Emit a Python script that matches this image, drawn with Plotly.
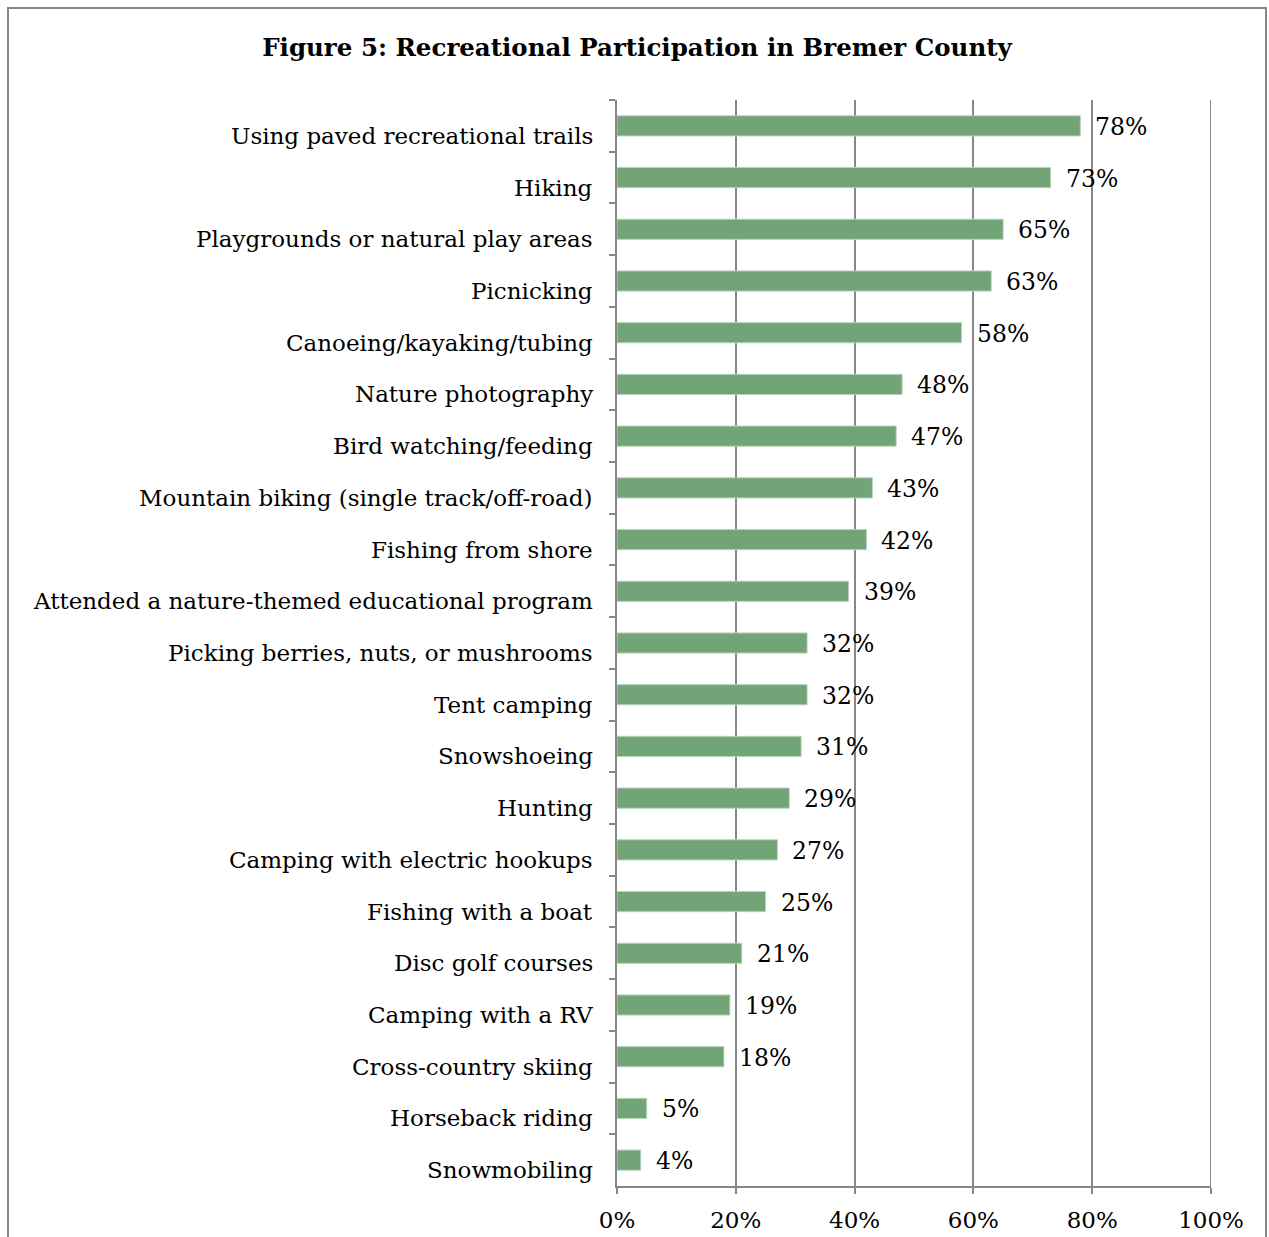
import plotly.graph_objects as go

activities = [
    "Using paved recreational trails",
    "Hiking",
    "Playgrounds or natural play areas",
    "Picnicking",
    "Canoeing/kayaking/tubing",
    "Nature photography",
    "Bird watching/feeding",
    "Mountain biking (single track/off-road)",
    "Fishing from shore",
    "Attended a nature-themed educational program",
    "Picking berries, nuts, or mushrooms",
    "Tent camping",
    "Snowshoeing",
    "Hunting",
    "Camping with electric hookups",
    "Fishing with a boat",
    "Disc golf courses",
    "Camping with a RV",
    "Cross-country skiing",
    "Horseback riding",
    "Snowmobiling",
]
participation = [0.78, 0.73, 0.65, 0.63, 0.58, 0.48, 0.47, 0.43, 0.42, 0.39,
                 0.32, 0.32, 0.31, 0.29, 0.27, 0.25, 0.21, 0.19, 0.18, 0.05, 0.04]
x_ticks = [0, 0.2, 0.4, 0.6, 0.8, 1.0]

FONT = "DejaVu Serif"
GRID = "#878787"
BAR = "#71A476"

fig = go.Figure(go.Bar(
    y=activities,
    x=participation,
    orientation="h",
    width=0.39,
    marker=dict(color=BAR, line=dict(color="#B9D3BB", width=1)),
    hoverinfo="skip",
))

# value labels to the right of each bar
annotations = []
for name, v in zip(activities, participation):
    annotations.append(dict(
        x=v, y=name, xref="x", yref="y",
        text=f"{round(v * 100)}%", showarrow=False,
        xanchor="left", xshift=13, yshift=-1,
        font=dict(family=FONT, size=23.5, color="black"),
    ))
    # category label, set slightly below band centre
    annotations.append(dict(
        x=0, y=name, xref="paper", yref="y",
        text=name, showarrow=False,
        xanchor="right", xshift=-22, yshift=-10,
        font=dict(family=FONT, size=23, color="black"),
    ))

shapes = [
    # figure frame
    dict(
        type="rect", xref="paper", yref="paper",
        x0=(8 - 617) / 594, x1=(1266 - 617) / 594,
        y0=(1186 - 1250) / 1086, y1=(1186 - 8) / 1086,
        line=dict(color=GRID, width=2), fillcolor="rgba(0,0,0,0)", layer="below",
    ),
    # gridline at the right end of the value axis
    dict(
        type="line", xref="x", yref="paper", x0=1.0, x1=1.0, y0=0, y1=1,
        line=dict(color=GRID, width=2), layer="below",
    ),
]

fig.update_layout(
    width=1269, height=1237,
    margin=dict(l=617, r=58, t=100, b=51),
    paper_bgcolor="white", plot_bgcolor="white",
    showlegend=False,
    title=dict(
        text="<b>Figure 5: Recreational Participation in Bremer County</b>",
        x=637 / 1269, xanchor="center", y=1 - 47 / 1237, yanchor="middle",
        font=dict(family=FONT, size=24.5, color="black"),
    ),
    annotations=annotations,
    shapes=shapes,
)
fig.update_xaxes(
    range=[0, 1], tickvals=x_ticks, tickformat=".0%",
    showgrid=True, gridcolor=GRID, gridwidth=2,
    showline=True, linecolor=GRID, linewidth=2,
    ticks="outside", ticklen=6, tickcolor=GRID, tickwidth=2,
    ticklabelstandoff=6, automargin=False,
    tickfont=dict(family=FONT, size=23, color="black"),
    zeroline=False, fixedrange=True,
)
fig.update_yaxes(
    categoryorder="array", categoryarray=activities, autorange="reversed",
    showticklabels=False, tickson="boundaries", automargin=False,
    ticks="outside", ticklen=6, tickcolor=GRID, tickwidth=2,
    showline=True, linecolor=GRID, linewidth=2,
    showgrid=False, zeroline=False, fixedrange=True,
)

fig.write_html("out.html")
